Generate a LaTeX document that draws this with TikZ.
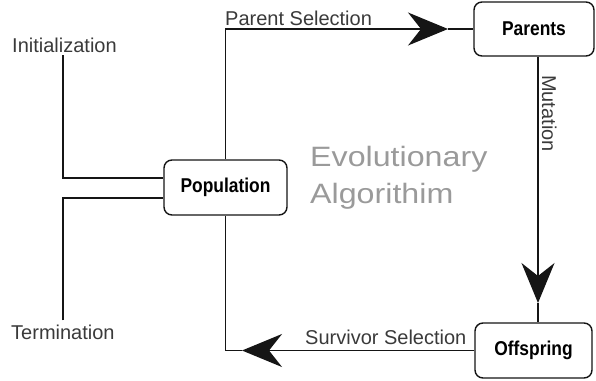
\documentclass[tikz,border=0pt]{standalone}
\usepackage{fontspec}
\setmainfont{Liberation Sans}
\newfontfamily\condfont{Liberation Sans}[FakeStretch=0.87]
\newfontfamily\lightfont{Liberation Sans}[FakeStretch=1.15]
\usetikzlibrary{arrows.meta,calc}
\definecolor{labelgray}{HTML}{3A3A3A}
\definecolor{titlegray}{HTML}{9A9A9A}
\definecolor{linecol}{HTML}{151515}
\tikzset{
  stagebox/.style={draw=linecol, line width=1.4pt, rounded corners=8pt, fill=white,
    inner sep=0pt, font=\condfont\bfseries\fontsize{20}{24}\selectfont, text=black},
  lbl/.style={font=\fontsize{20}{24}\selectfont, text=labelgray, inner sep=3pt},
  conn/.style={draw=linecol, line width=1.4pt},
  bigarrow/.style={conn, -{Stealth[length=40pt, width=33pt, inset=13pt]}},
  titletext/.style={font=\lightfont\fontsize{28}{34}\selectfont, text=titlegray, inner sep=0pt}
}
\begin{document}
\begin{tikzpicture}[x=1pt,y=-1pt]
\useasboundingbox (0,0) rectangle (596,380);
% boxes
\node[stagebox, minimum width=123pt, minimum height=55pt] (pop) at (225.5,187.5) {Population};
\node[stagebox, minimum width=120pt, minimum height=54pt] (par) at (534,29) {Parents};
\node[stagebox, minimum width=117pt, minimum height=55pt] (off) at (533.5,350.5) {Offspring};
% side labels
\node[lbl, anchor=base west] (init) at (9,52) {Initialization};
\node[lbl, anchor=base west, inner sep=4pt] (term) at (7,339) {Termination};
% title
\node[titletext, anchor=base west] (evo1) at (310,166) {Evolutionary};
\node[titletext, anchor=base west] (evo2) at (310,203) {Algorithim};
% arrow tip positions
\coordinate (ptip) at (448,29);
\coordinate (mtip) at (538,303);
\coordinate (stip) at (242,350.5);
% parent selection
\draw[bigarrow] (pop.north) |- (ptip);
\draw[conn] (ptip) -- (par.west);
\node[lbl, anchor=base west, inner sep=0pt] (psel) at (225,25) {Parent Selection};
% mutation
\draw[bigarrow] (par.south -| mtip) -- (mtip);
\draw[conn] (mtip) -- (off.north -| mtip);
\node[lbl, anchor=base west, rotate=-90, inner sep=0pt] (mut) at (542,75) {Mutation};
% survivor selection
\draw[bigarrow] (off.west) -- (stip);
\draw[conn] (stip) -| (pop.south);
\node[lbl, anchor=base west, inner sep=0pt] (ssel) at (305,344) {Survivor Selection};
% initialization / termination
\draw[conn] (init.south -| 63,0) |- ($(pop.west)+(0,-9.5)$);
\draw[conn] (term.north -| 63,0) |- ($(pop.west)+(0,10.5)$);
\end{tikzpicture}
\end{document}
